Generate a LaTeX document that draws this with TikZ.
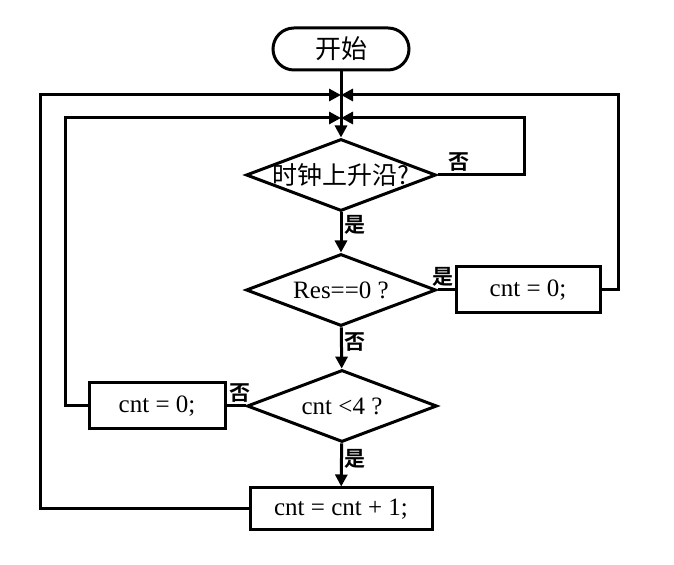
\documentclass[tikz,border=0pt]{standalone}
\usepackage{fontspec}
\setmainfont{Liberation Serif}
\newfontfamily\cjk{Noto Sans CJK SC}
\newfontfamily\cjkb{Noto Sans CJK SC Bold}
\usetikzlibrary{shapes,arrows.meta,positioning,calc}

\tikzset{
  base/.style={draw, line width=1.5pt, inner sep=1pt, font=\fontsize{12.5}{14}\selectfont},
  startstop/.style={base, rounded corners=10.5pt, minimum width=68pt, minimum height=21pt},
  decision/.style={base, diamond, aspect=2.6, inner sep=0pt, minimum width=95pt, minimum height=36pt},
  process/.style={base, rectangle, minimum height=23pt},
  arr/.style={line width=1.5pt, -{Triangle[length=6pt,width=6pt]}},
  line/.style={line width=1.5pt},
  lbl/.style={font=\cjkb\fontsize{10.5}{11}\selectfont, inner sep=1pt}
}

\begin{document}
\begin{tikzpicture}[x=0.5pt,y=-0.5pt]
    \useasboundingbox (0,0) rectangle (674,565);

    % Nodes
    \node[startstop] (start) at (341,49) {\cjk\fontsize{13}{14}\selectfont 开始};
    \node[decision] (clk) at (341,175) {\makebox[40pt]{\cjk\fontsize{12.5}{14}\selectfont 时钟上升沿?}};
    \node[decision] (res) at (341,290) {Res==0 ?};
    \node[process, minimum width=72pt] (clr1) at (528,290) {cnt = 0;};
    \node[decision] (cmp) at (342,406) {cnt <4 ?};
    \node[process, minimum width=68pt] (clr2) at (157,406) {cnt = 0;};
    \node[process, minimum width=91pt, minimum height=21pt] (inc) at (341,509) {cnt = cnt + 1;};
    \coordinate (j1) at (341,95);
    \coordinate (j2) at (341,118);

    % Main flow
    \draw[arr] (start) -- (clk);
    \draw[arr] (clk) -- node[lbl, right, pos=0.3] {是} (res);
    \draw[arr] (res) -- node[lbl, right, pos=0.35] {否} (cmp);
    \draw[arr] (cmp) -- node[lbl, right, pos=0.35] {是} (inc);

    % Branches
    \draw[line] (res.east) -- node[lbl, above, pos=0.3] {是} (clr1.west);
    \draw[line] (cmp.west) -- node[lbl, above, pos=0.3] {否} (clr2.east);

    % Loops back
    \draw[arr] (clk.east) -- node[lbl, above, pos=0.25] {否} ++(87,0) |- (j2);
    \draw[arr] (clr1.east) -- ++(17,0) |- (j1);
    \draw[arr] (clr2.west) -- ++(-22,0) |- (j2);
    \draw[arr] (inc.west) -- ++(-208,0) |- (j1);
\end{tikzpicture}
\end{document}
